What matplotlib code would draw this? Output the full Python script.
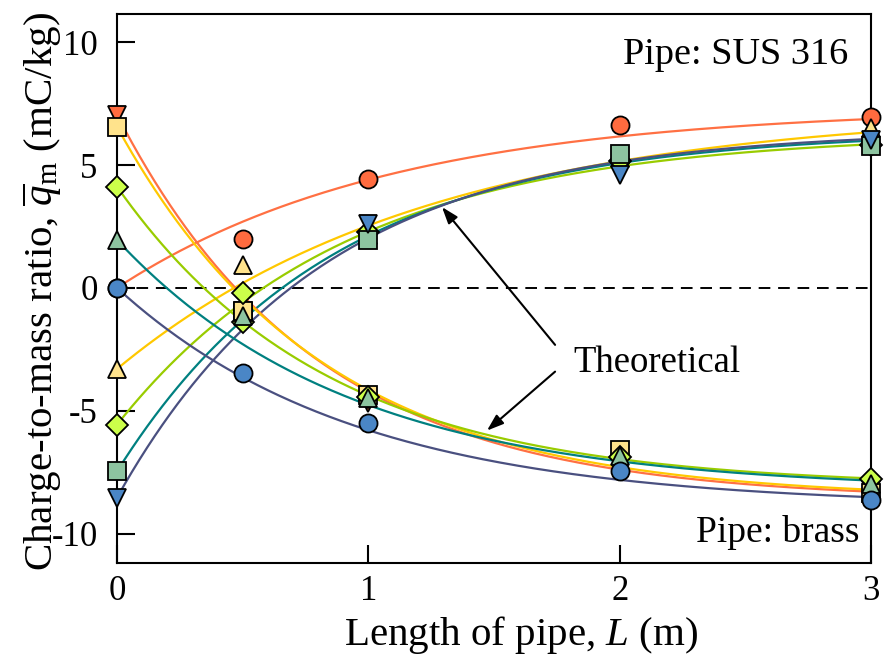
import numpy as np
import matplotlib
matplotlib.use('Agg')
import matplotlib.pyplot as plt

plt.rcParams['font.family'] = ['Liberation Serif', 'DejaVu Serif']
plt.rcParams['mathtext.fontset'] = 'custom'
plt.rcParams['mathtext.rm'] = 'Liberation Serif'
plt.rcParams['mathtext.it'] = 'Liberation Serif:italic'
plt.rcParams['axes.unicode_minus'] = False

# Measured positions along the pipe (m)
L_meas = [0, 0.5, 1, 2, 3]

# Measured charge-to-mass ratio (mC/kg), pipe: SUS 316
sus_circle = [0.0, 2.0, 4.43, 6.63, 6.97]
sus_tri_up = [-3.3, 0.93, 2.15, 5.3, 6.49]
sus_diamond = [-5.57, -1.37, 2.29, 5.18, 5.81]
sus_square = [-7.47, -1.0, 1.95, 5.47, 5.77]
sus_tri_down = [-8.54, -1.1, 2.6, 4.6, 6.0]

# Measured charge-to-mass ratio (mC/kg), pipe: brass
brass_tri_down = [7.05, -0.96, -4.68, -7.2, -8.21]
brass_square = [6.56, -0.95, -4.35, -6.59, -8.35]
brass_diamond = [4.12, -0.19, -4.45, -6.9, -7.78]
brass_tri_up = [1.95, -1.15, -4.5, -6.83, -8.0]
brass_circle = [0.0, -3.47, -5.5, -7.47, -8.62]

# Theoretical relaxation curves: initial value, saturation value, length constant (m)
sus_q0 = [0.0, -3.3, -5.57, -7.47, -8.54]
sus_qinf = [7.35, 7.3, 6.3, 6.4, 6.45]
sus_lam = [1.095, 1.25, 0.92, 0.85, 0.82]

brass_q0 = [7.05, 6.56, 4.12, 1.95, 0.0]
brass_qinf = [-8.65, -8.6, -8.1, -8.25, -8.9]
brass_lam = [0.79, 0.815, 0.84, 0.93, 0.95]

marker_colors = ['#FF6B3F', '#FFE38C', '#CCFF4A', '#8DC4A0', '#4A86C6']
line_colors = ['#FF7043', '#FFC800', '#99CC00', '#008080', '#4A5080']

fig = plt.figure(figsize=(8.85, 6.57), dpi=100)
ax = fig.add_axes([0.1322, 0.1431, 0.852, 0.8356])

L = np.linspace(0, 3, 300)
for q0s, qinfs, lams in [(sus_q0, sus_qinf, sus_lam), (brass_q0, brass_qinf, brass_lam)]:
    for q0, qinf, lam, c in zip(q0s, qinfs, lams, line_colors):
        ax.plot(L, qinf + (q0 - qinf) * np.exp(-L / lam), color=c, lw=1.6,
                zorder=2, clip_on=False)

ax.axhline(0, color='black', lw=1.4, ls=(0, (6, 4)), zorder=1)

mk = dict(mec='black', mew=1.3, ls='none', zorder=4, clip_on=False)
sus_sets = [(sus_circle, 'o'), (sus_tri_up, '^'), (sus_diamond, 'D'),
            (sus_square, 's'), (sus_tri_down, 'v')]
brass_sets = [(brass_tri_down, 'v'), (brass_square, 's'), (brass_diamond, 'D'),
              (brass_tri_up, '^'), (brass_circle, 'o')]
for sets in (sus_sets, brass_sets):
    for (vals, m), c in zip(sets, marker_colors):
        ax.plot(L_meas, vals, marker=m, mfc=c, ms=11 if m == 'D' else 13, **mk)

ax.set_xlim(0, 3)
ax.set_ylim(-11.2, 11.15)
ax.set_xticks([0, 1, 2, 3])
ax.set_yticks([-10, -5, 0, 5, 10])
ax.set_yticklabels(['-10', '-5', '0', '5', '10'])
ax.tick_params(direction='in', length=13, width=1.5, labelsize=25)
ax.tick_params(axis='x', pad=9)
ax.tick_params(axis='y', pad=14)
for s in ax.spines.values():
    s.set_linewidth(1.5)

ax.set_xlabel('Length of pipe, $L$ (m)', fontsize=29.5, va='top')
ax.xaxis.set_label_coords(0.536, -0.093)
ax.set_ylabel(r'Charge-to-mass ratio, $\overline{q}_{\mathrm{m}}$ (mC/kg)',
              fontsize=29.5, va='center')
ax.yaxis.set_label_coords(-0.1, 0.494)

ax.text(0.9695, 0.925, 'Pipe: SUS 316', transform=ax.transAxes,
        ha='right', va='center', fontsize=27.5)
ax.text(0.985, 0.056, 'Pipe: brass', transform=ax.transAxes,
        ha='right', va='center', fontsize=27)

arrow = dict(arrowstyle='-|>,head_length=1.0,head_width=0.35', color='black',
             lw=1.5, shrinkA=0, shrinkB=0)
ax.annotate('', xy=(1.293, 3.29), xytext=(1.743, -2.32), arrowprops=arrow)
ax.annotate('', xy=(1.472, -5.81), xytext=(1.743, -3.41), arrowprops=arrow)
ax.text(1.815, -3.05, 'Theoretical', ha='left', va='center', fontsize=26.5)

fig.savefig('out.png', dpi=100)
